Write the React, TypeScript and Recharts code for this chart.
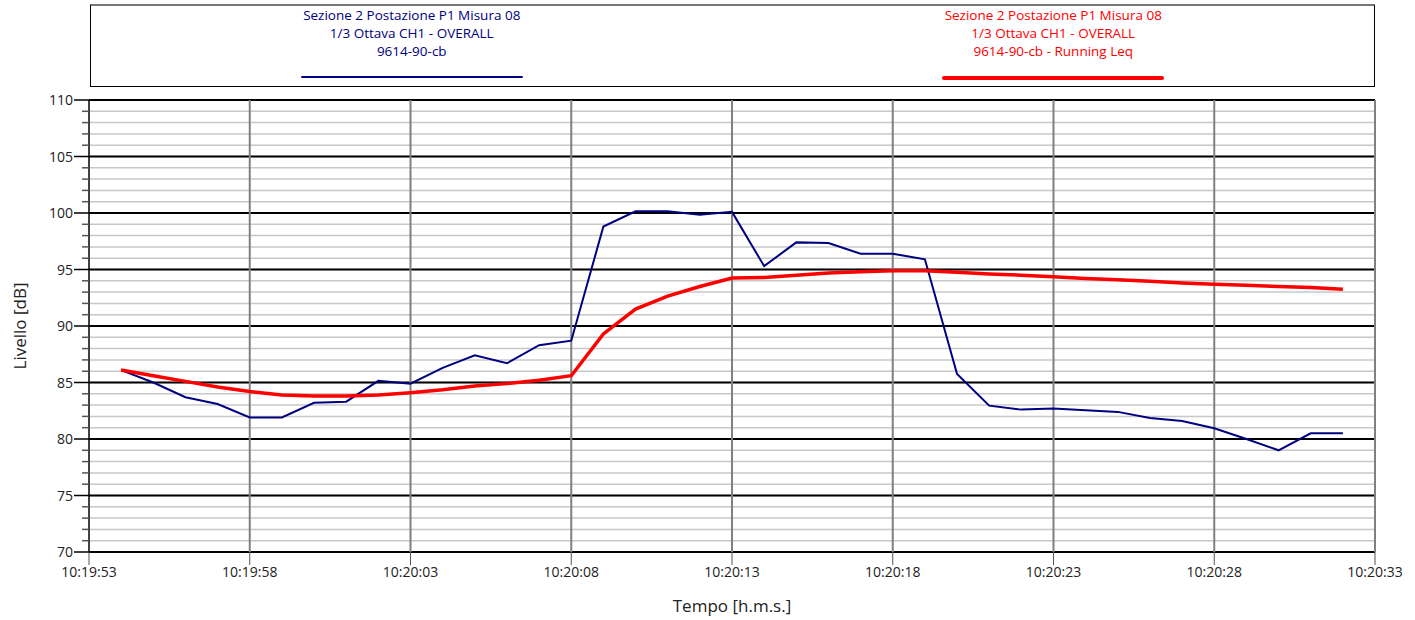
import { LineChart, Line, XAxis, YAxis, CartesianGrid, ReferenceLine } from 'recharts'

// seconds after 10:19:53
const offsets = [
  1, 2, 3, 4, 5, 6, 7, 8, 9, 10, 11, 12, 13, 14, 15, 16, 17, 18, 19, 20,
  21, 22, 23, 24, 25, 26, 27, 28, 29, 30, 31, 32, 33, 34, 35, 36, 37, 38, 39,
]

const overall = [
  86.1, 85.0, 83.7, 83.1, 81.9, 81.9, 83.2, 83.3, 85.15, 84.9, 86.3, 87.4, 86.7, 88.3, 88.7,
  98.8, 100.15, 100.15, 99.85, 100.1, 95.3, 97.4, 97.35, 96.4, 96.4, 95.9,
  85.75, 82.95, 82.6, 82.7, 82.55, 82.4, 81.85, 81.6, 80.95, 80.0, 79.0, 80.5, 80.5,
]

const runningLeq = [
  86.1, 85.6, 85.1, 84.6, 84.2, 83.9, 83.8, 83.8, 83.9, 84.1, 84.35, 84.7, 84.9, 85.2, 85.6,
  89.3, 91.5, 92.65, 93.5, 94.25, 94.3, 94.5, 94.7, 94.8, 94.9, 94.9,
  94.75, 94.6, 94.5, 94.35, 94.2, 94.1, 93.95, 93.8, 93.7, 93.6, 93.5, 93.4, 93.25,
]

const timeTicks = [0, 5, 10, 15, 20, 25, 30, 35, 40]
const timeLabels = [
  '10:19:53', '10:19:58', '10:20:03', '10:20:08', '10:20:13',
  '10:20:18', '10:20:23', '10:20:28', '10:20:33',
]
const majorLevels = [70, 75, 80, 85, 90, 95, 100, 105, 110]

const series = [
  {
    key: 'overall',
    color: '#000080',
    width: 2,
    lines: ['Sezione 2 Postazione P1 Misura 08', '1/3 Ottava CH1 - OVERALL', '9614-90-cb'],
  },
  {
    key: 'leq',
    color: '#ff0000',
    width: 3.5,
    lines: ['Sezione 2 Postazione P1 Misura 08', '1/3 Ottava CH1 - OVERALL', '9614-90-cb - Running Leq'],
  },
]

const data = offsets.map((t, i) => ({ t, overall: overall[i], leq: runningLeq[i] }))

const levelTicks: number[] = []
for (let v = 70; v <= 110; v++) levelTicks.push(v)

const FONT = '"Open Sans", sans-serif'

const YTick = (props: any) => {
  const { x, y, payload } = props
  const major = payload.value % 5 === 0
  return (
    <g>
      <line x1={major ? x : x + 8} x2={x + 15} y1={y} y2={y} stroke={major ? '#000' : '#555'} strokeWidth={1.5} />
      {major && (
        <text x={x - 1} y={y} dy={5} textAnchor="end" fontSize={14} fill="#222" fontFamily={FONT}>
          {payload.value}
        </text>
      )}
    </g>
  )
}

function App() {
  return (
    <div style={{ position: 'absolute', left: 0, top: 0, width: 1415, height: 620, fontFamily: FONT }}>
      <div
        style={{
          position: 'absolute',
          left: 90,
          top: 4,
          width: 1285,
          height: 83,
          border: '1px solid #000',
          borderTop: '2px solid #777',
          display: 'flex',
          boxSizing: 'border-box',
        }}
      >
        {series.map((s) => (
          <div key={s.key} style={{ flex: 1, position: 'relative', textAlign: 'center', color: s.color, fontSize: 13.5 }}>
            <div style={{ position: 'absolute', top: 0, left: 0, right: 0, lineHeight: '18px' }}>
              {s.lines.map((l) => (
                <div key={l}>{l}</div>
              ))}
            </div>
            <div
              style={{
                position: 'absolute',
                top: 70,
                left: '50%',
                marginLeft: -111,
                width: 222,
                height: s.width,
                background: s.color,
                borderRadius: 2,
              }}
            />
          </div>
        ))}
      </div>
      <LineChart width={1415} height={620} data={data} margin={{ top: 100, right: 40, left: 0, bottom: 0 }}>
        <CartesianGrid horizontal vertical={false} stroke="#c8c8c8" strokeWidth={1.5} />
        {majorLevels.map((v) => (
          <ReferenceLine key={'y' + v} y={v} stroke="#000" strokeWidth={2} />
        ))}
        {timeTicks.slice(1).map((v) => (
          <ReferenceLine key={'x' + v} x={v} stroke="#808080" strokeWidth={2} />
        ))}
        <XAxis
          dataKey="t"
          type="number"
          domain={[0, 40]}
          ticks={timeTicks}
          interval={0}
          tickFormatter={(v: number) => timeLabels[timeTicks.indexOf(v)]}
          axisLine={false}
          tickLine={{ stroke: '#555' }}
          tickSize={13}
          tickMargin={2}
          height={68}
          tick={{ fontSize: 14, fill: '#222', fontFamily: FONT }}
          label={{ value: 'Tempo [h.m.s.]', position: 'insideBottom', offset: 8, fontSize: 17, fill: '#222', fontFamily: FONT }}
        />
        <YAxis
          type="number"
          domain={[70, 110]}
          ticks={levelTicks}
          interval={0}
          width={89}
          tickLine={false}
          tickSize={15}
          tickMargin={0}
          tick={<YTick />}
          axisLine={{ stroke: '#000', strokeWidth: 1.5 }}
          label={{
            value: 'Livello [dB]',
            angle: -90,
            position: 'insideLeft',
            offset: 20,
            fontSize: 17,
            fill: '#222',
            fontFamily: FONT,
            style: { textAnchor: 'middle' },
          }}
        />
        {series.map((s) => (
          <Line
            key={s.key}
            dataKey={s.key}
            type="linear"
            stroke={s.color}
            strokeWidth={s.width}
            dot={false}
            isAnimationActive={false}
          />
        ))}
      </LineChart>
    </div>
  )
}

export default App
